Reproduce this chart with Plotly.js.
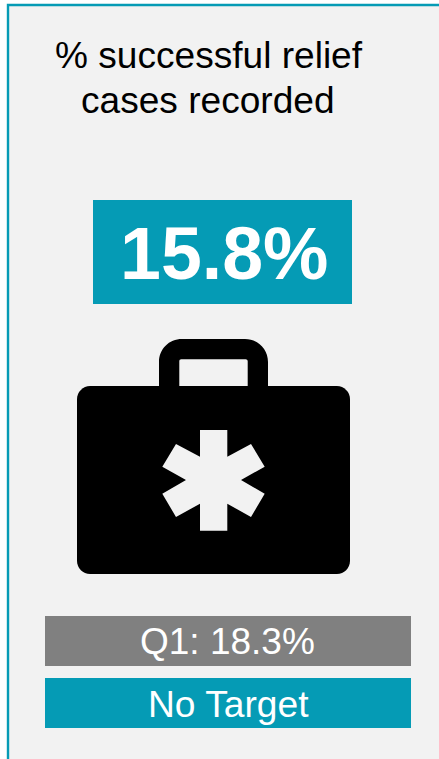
<!DOCTYPE html>
<html>
<head>
<meta charset="utf-8">
<script src="https://cdn.plot.ly/plotly-3.0.1.min.js"></script>
<style>html,body{margin:0;padding:0;background:#fff;overflow:hidden}#chart{width:439px;height:759px}</style>
</head>
<body>
<div id="chart"></div>
<script>
const titleLines = ["% successful relief", "cases recorded"];
const currentValue = [15.8];
const previousLabel = ["Q1"];
const previousValue = [18.3];
const targetLabel = ["No Target"];

const TEAL = "#059BB5", GRAY = "#808080", PANEL = "#F2F2F2", FONT = "Liberation Sans, Arial, sans-serif";

function rect(x0, y0, x1, y1, fill, line) {
  return {type: "rect", xref: "x", yref: "y", x0, y0, x1, y1, fillcolor: fill,
    line: line ? {color: line, width: 2.4} : {width: 0}, layer: "below"};
}
function path(d, fill) {
  return {type: "path", xref: "x", yref: "y", path: d, fillcolor: fill, line: {width: 0}, layer: "below"};
}
function label(text, x, y, size, color, bold) {
  return {xref: "x", yref: "y", x, y, text: bold ? "<b>" + text + "</b>" : text, showarrow: false,
    xanchor: "center", yanchor: "middle", align: "center", font: {family: FONT, size, color}};
}

const caseBody = "M90 386H337C344 386 350 392 350 399V561C350 568 344 574 337 574H90C83 574 77 568 77 561V399C77 392 83 386 90 386Z";
const caseHandle = "M159 386V362C159 349 169 339 182 339H245C258 339 268 349 268 362V386H247.7V361.3C247.7 360 246.7 359.3 245.7 359.3H181.3C180 359.3 179.3 360 179.3 361.3V386Z";
const star = "M200 430H227.3V456.7L251 444L264.7 466.7L241 480L264.7 493.7L251 517L227.3 503.7V530.7H200V503.7L176 517L162.3 493.7L186 480L162.3 466.7L176 444L200 456.7Z";

const layout = {
  width: 439, height: 759, margin: {l: 0, r: 0, t: 0, b: 0}, autosize: false,
  paper_bgcolor: "#FFFFFF", plot_bgcolor: "rgba(0,0,0,0)", showlegend: false,
  xaxis: {range: [0, 439], visible: false, fixedrange: true},
  yaxis: {range: [759, 0], visible: false, fixedrange: true},
  shapes: [
    rect(8, 5, 470, 790, PANEL, TEAL),
    rect(93, 200, 352, 304, TEAL),
    path(caseBody, "#000000"),
    path(caseHandle, "#000000"),
    path(star, PANEL),
    rect(45, 616, 411, 666, GRAY),
    rect(45, 678, 411, 728, TEAL)
  ],
  annotations: [
    label(titleLines[0], 209, 55, 37.1, "#000000"),
    label(titleLines[1], 208, 100, 37.1, "#000000"),
    label(currentValue[0].toFixed(1) + "%", 223.5, 253, 73.5, "#FFFFFF", true),
    label(previousLabel[0] + ": " + previousValue[0].toFixed(1) + "%", 227.5, 641, 37, "#FFFFFF"),
    label(targetLabel[0], 228, 704, 37.2, "#FFFFFF")
  ]
};
Plotly.newPlot("chart", [{type: "scatter", x: [], y: [], hoverinfo: "skip"}], layout, {displayModeBar: false, staticPlot: true});
</script>
</body>
</html>
